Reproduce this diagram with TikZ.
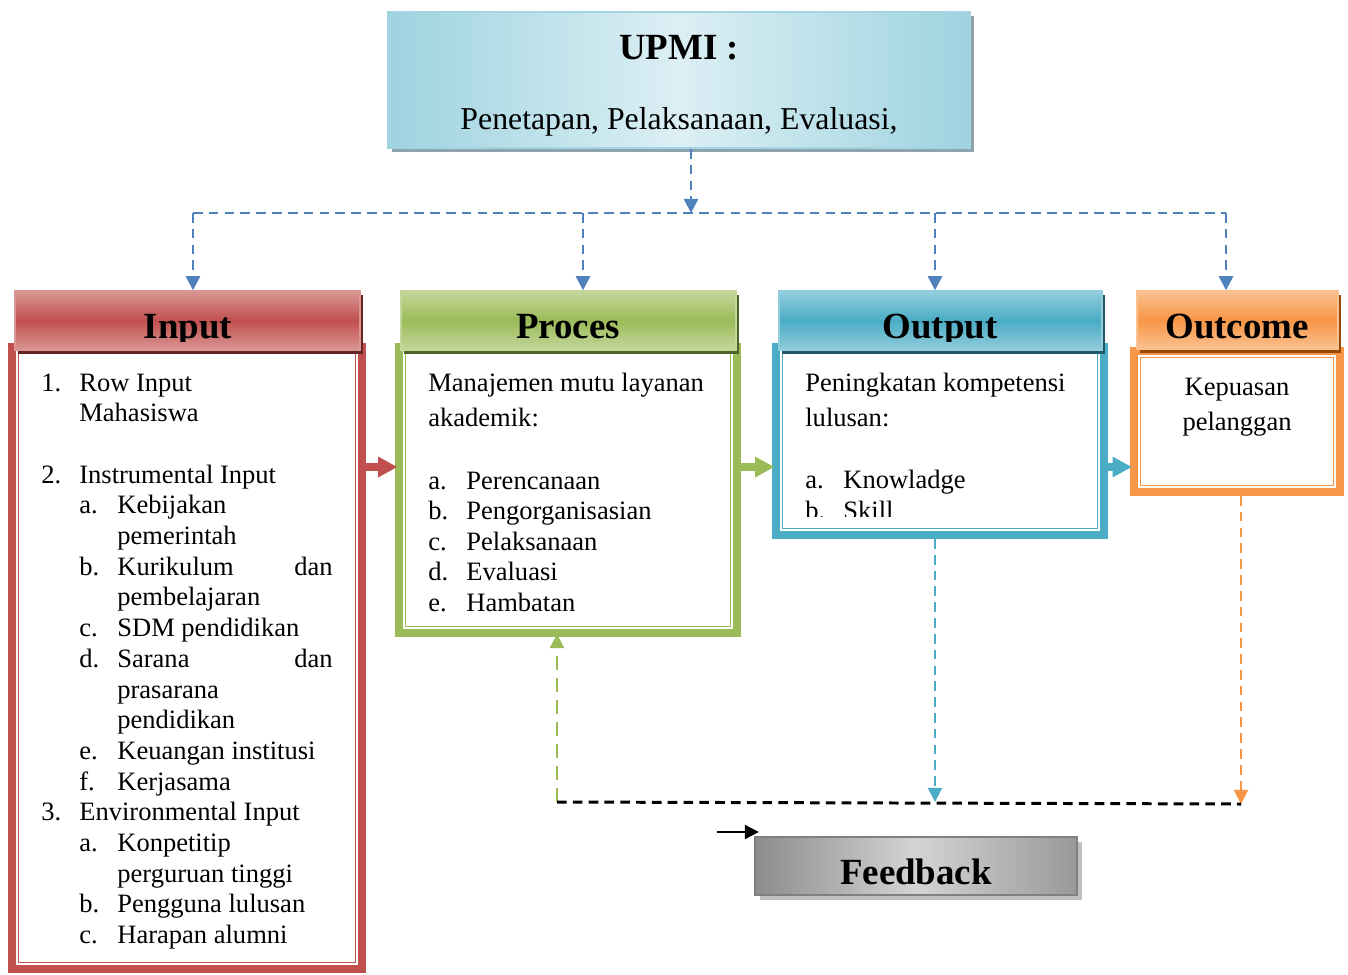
\documentclass[tikz,border=0pt]{standalone}
\usepackage{fontspec}
\setmainfont{Liberation Serif}
\usetikzlibrary{arrows.meta,fit,shadows}

\definecolor{redM}{HTML}{C0504D}
\definecolor{redL}{HTML}{DA9694}
\definecolor{redD}{HTML}{632523}
\definecolor{grnM}{HTML}{9BBB59}
\definecolor{grnL}{HTML}{C4D79B}
\definecolor{grnD}{HTML}{4F6228}
\definecolor{bluM}{HTML}{4BACC6}
\definecolor{bluL}{HTML}{92CDDC}
\definecolor{bluD}{HTML}{215868}
\definecolor{orM}{HTML}{F79646}
\definecolor{orL}{HTML}{FAC090}
\definecolor{orD}{HTML}{974806}
\definecolor{linkblue}{HTML}{4F81BD}
\definecolor{topL}{HTML}{DCEFF4}
\definecolor{topD}{HTML}{9ED3E0}
\definecolor{topB}{HTML}{A5D5E2}
\definecolor{topS}{HTML}{8DA3AE}

\tikzset{
  body/.style={font=\fontsize{15.1}{17.4}\selectfont, inner sep=0pt, anchor=base west},
  bodyr/.style={body, anchor=base east},
  bodyc/.style={body, anchor=base},
  hdrtxt/.style={font=\fontsize{21}{25}\selectfont\bfseries, inner sep=0pt, anchor=base},
  hdr/.style n args={3}{inner sep=0pt, line width=0.8pt, draw=#1,
    top color=#1, bottom color=#1, middle color=#2,
    drop shadow={shadow xshift=0.06cm, shadow yshift=-0.07cm, fill=#3, opacity=1}},
  dline/.style={linkblue, line width=1.4pt, dash pattern=on 5.5pt off 3.5pt},
  tip/.style={-{Triangle[length=8pt,width=8pt]}},
  blockarrow/.style={line width=5pt, -{Triangle[length=11pt,width=11pt]}},
}

% thick-thin framed box: colour, name, outer edges x1 y1 x2 y2
\newcommand\drawframe[6]{%
  \node[fit={(#3+3.5,#4+3.5) (#5-3.5,#6-3.5)}, inner sep=0pt, draw=#1, line width=4pt] (#2) {};
  \draw[#1, line width=1.1pt] ([shift={(0.15cm,0.15cm)}]#2.south west) rectangle ([shift={(-0.15cm,-0.15cm)}]#2.north east);
  \draw[#1, line width=0.6pt] ([shift={(0.21cm,0.21cm)}]#2.south west) rectangle ([shift={(-0.21cm,-0.21cm)}]#2.north east);
}

\begin{document}
\begin{tikzpicture}[x=0.02cm, y=-0.02cm]
\useasboundingbox (0,0) rectangle (1348,974);

% content frames
\drawframe{redM}{inF}{8}{343}{366}{973}
\drawframe{grnM}{prF}{395}{343}{741}{637}
\drawframe{bluM}{outF}{772}{343}{1108}{539}
\drawframe{orM}{ocF}{1130}{347}{1344}{496}

% flow arrows between the frames
\coordinate (ay) at (0,467);
\draw[blockarrow, redM, shorten >=-0.05cm] (inF.east |- ay) -- (prF.west |- ay);
\draw[blockarrow, grnM, shorten >=-0.05cm] (prF.east |- ay) -- (outF.west |- ay);
\draw[blockarrow, bluM, shorten >=-0.04cm] (outF.east |- ay) -- (ocF.west |- ay);

% headers
\node[hdr={redL}{redM}{redD}, fit={(15,291) (360,350)}] (inH) {};
\node[hdr={grnL}{grnM}{grnD}, fit={(401,291) (736,350)}] (prH) {};
\node[hdr={bluL}{bluM}{bluD}, fit={(779,291) (1102,350)}] (outH) {};
\node[hdr={orL}{orM}{orD}, fit={(1137,291) (1338,349)}] (ocH) {};

% UPMI box
\node[fit={(388,12) (970,148)}, inner sep=0pt, draw=topB, line width=1pt,
      left color=topD, right color=topD, middle color=topL,
      drop shadow={shadow xshift=0.08cm, shadow yshift=-0.07cm, fill=topS, opacity=1}] (upmi) {};
\node[hdrtxt] (upmiT) at (679,59) {UPMI :};
\node[font=\fontsize{18.1}{21}\selectfont, inner sep=0pt, anchor=base] (upmiS) at (679,129) {Penetapan, Pelaksanaan, Evaluasi,};

% Feedback box
\node[fit={(755,837) (1077,895)}, inner sep=0pt, draw=black!50, line width=1.3pt,
      left color=black!45, right color=black!40, middle color=black!17,
      drop shadow={shadow xshift=0.1cm, shadow yshift=-0.1cm, fill=black!25, opacity=1}] (fb) {};
\node[hdrtxt] (fbT) at (916,884) {Feedback};

% distribution lines from UPMI
\coordinate (hub) at (691,213);
\coordinate (bIn) at (193,213);
\coordinate (bPr) at (583,213);
\coordinate (bOut) at (935,213);
\coordinate (bOc) at (1226,213);
\draw[dline, tip] (upmi.south -| hub) -- (hub);
\draw[dline] (bIn) -- (bOc);
\draw[dline, tip] (bIn) -- (bIn |- inH.north);
\draw[dline, tip] (bPr) -- (bPr |- prH.north);
\draw[dline, tip] (bOut) -- (bOut |- outH.north);
\draw[dline, tip] (bOc) -- (bOc |- ocH.north);

% feedback loop
\coordinate (fbL) at (557,802);
\coordinate (fbO) at (935,802);
\coordinate (fbR) at (1241,804);
\coordinate (fbIn) at (717,832);
\draw[grnM, line width=1.4pt, dash pattern=on 8pt off 4.5pt, tip, shorten >=-0.06cm] (fbL) -- (fbL |- prF.south);
\draw[bluM, line width=1.1pt, dash pattern=on 5.5pt off 3.5pt, tip] (outF.south -| fbO) -- (fbO);
\draw[orM, line width=1.1pt, dash pattern=on 5.5pt off 3.5pt, tip] (ocF.south -| fbR) -- (fbR);
\draw[black, line width=1.7pt, dash pattern=on 5.5pt off 3.5pt] (fbL) -- (fbR);
\draw[black, line width=1.1pt, -{Triangle[length=8pt,width=8pt]}] (fbIn) -- ([xshift=0.1cm]fbIn -| fb.west);

% header titles
\begin{scope}
\clip (0,280) rectangle (1348,341);
\node[hdrtxt] (inHT) at (188,338) {Input};
\node[hdrtxt] (prHT) at (568,338) {Proces};
\node[hdrtxt] (outHT) at (940,338) {Output};
\node[hdrtxt] (ocHT) at (1237,338) {Outcome};
\end{scope}

% Input list
\node[body] (i1n) at (41,391) {1.};
\node[body] (i1t) at (79,391) {Row Input};
\node[body] (i1u) at (79,421.7) {Mahasiswa};
\node[body] (i2n) at (41,483.1) {2.};
\node[body] (i2t) at (79,483.1) {Instrumental Input};
\node[body] (i2a) at (79,513.8) {a.};
\node[body] (i2at) at (117,513.8) {Kebijakan};
\node[body] (i2au) at (117,544.5) {pemerintah};
\node[body] (i2b) at (79,575.2) {b.};
\node[body] (i2bt) at (117,575.2) {Kurikulum};
\node[bodyr] (i2bd) at (333,575.2) {dan};
\node[body] (i2bu) at (117,605.9) {pembelajaran};
\node[body] (i2c) at (79,636.6) {c.};
\node[body] (i2ct) at (117,636.6) {SDM pendidikan};
\node[body] (i2d) at (79,667.3) {d.};
\node[body] (i2dt) at (117,667.3) {Sarana};
\node[bodyr] (i2dd) at (333,667.3) {dan};
\node[body] (i2du) at (117,698) {prasarana};
\node[body] (i2dv) at (117,728.7) {pendidikan};
\node[body] (i2e) at (79,759.4) {e.};
\node[body] (i2et) at (117,759.4) {Keuangan institusi};
\node[body] (i2f) at (79,790.1) {f.};
\node[body] (i2ft) at (117,790.1) {Kerjasama};
\node[body] (i3n) at (41,820.8) {3.};
\node[body] (i3t) at (79,820.8) {Environmental Input};
\node[body] (i3a) at (79,851.5) {a.};
\node[body] (i3at) at (117,851.5) {Konpetitip};
\node[body] (i3au) at (117,882.2) {perguruan tinggi};
\node[body] (i3b) at (79,912.9) {b.};
\node[body] (i3bt) at (117,912.9) {Pengguna lulusan};
\node[body] (i3c) at (79,943.6) {c.};
\node[body] (i3ct) at (117,943.6) {Harapan alumni};

% Proces list
\node[body] (p0) at (428,391) {Manajemen mutu layanan};
\node[body] (p0b) at (428,426) {akademik:};
\node[body] (pa) at (428,489) {a.};
\node[body] (pat) at (466,489) {Perencanaan};
\node[body] (pb) at (428,519.5) {b.};
\node[body] (pbt) at (466,519.5) {Pengorganisasian};
\node[body] (pc) at (428,550) {c.};
\node[body] (pct) at (466,550) {Pelaksanaan};
\node[body] (pd) at (428,580.5) {d.};
\node[body] (pdt) at (466,580.5) {Evaluasi};
\node[body] (pe) at (428,611) {e.};
\node[body] (pet) at (466,611) {Hambatan};

% Output list
\node[body] (o0) at (805,391) {Peningkatan kompetensi};
\node[body] (o0b) at (805,426) {lulusan:};
\node[body] (oa) at (805,488) {a.};
\node[body] (oat) at (843,488) {Knowladge};
\begin{scope}
\clip (781,495) rectangle (1098,516);
\node[body] (ob) at (805,519) {b.};
\node[body] (obt) at (843,519) {Skill};
\end{scope}

% Outcome text
\node[bodyc] (oc1) at (1237,395) {Kepuasan};
\node[bodyc] (oc2) at (1237,430) {pelanggan};
\end{tikzpicture}
\end{document}
